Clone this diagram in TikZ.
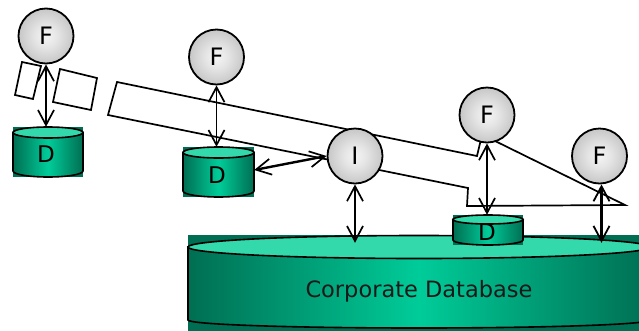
\documentclass[tikz,border=0pt]{standalone}
\usepackage{fontspec}
\setmainfont{DejaVu Sans}
\usetikzlibrary{arrows.meta}

\definecolor{tealdark}{RGB}{0,110,82}
\definecolor{tealbright}{RGB}{0,204,153}
\definecolor{teallight}{RGB}{51,217,170}
\pgfdeclareradialshading{sphere}{\pgfpoint{0bp}{0bp}}{color(0bp)=(white!96!black); color(10bp)=(white!90!black); color(50bp)=(black!42)}

% database drum: #1 left x, #2 right x, #3 box top, #4 lid centre y,
% #5 lid half-height, #6 side bottom y, #7 bottom bulge, #8 box bottom
\newcommand{\dbdrum}[8]{%
  \pgfmathsetmacro{\dbcx}{(#1+#2)/2}%
  \pgfmathsetmacro{\dbrx}{(#2-#1)/2}%
  \fill[tealdark] (#1,#3) rectangle (#2,#8);
  \draw[drumedge, left color=tealdark, right color=tealdark, middle color=tealbright]
    (#1,#4) -- (#1,#6) arc[start angle=180, end angle=0, x radius=\dbrx, y radius=#7]
    -- (#2,#4) -- cycle;
  \filldraw[drumedge, fill=teallight] (\dbcx,#4) ellipse[x radius=\dbrx, y radius=#5];
}

\begin{document}
\begin{tikzpicture}[x=1pt, y=-1pt,
  drumedge/.style={draw=black, line width=1.6pt},
  proc/.style={circle, draw=black, line width=1.8pt, minimum size=55pt, inner sep=0pt,
    shade, shading=sphere, font=\fontsize{24}{28}\selectfont},
  drumbox/.style={rectangle, draw=none, inner sep=0pt},
  dlabel/.style={inner sep=0pt, font=\fontsize{23}{27}\selectfont},
  outline/.style={draw=black, line width=1.7pt, line join=miter},
  link/.style={<->, line width=1.7pt},
  >={Straight Barb[length=15pt,width=16pt]}]
\useasboundingbox (0,0) rectangle (639,330);

% corporate database
\dbdrum{188}{650}{235}{247}{11.5}{320}{8}{335}
\node[drumbox, minimum width=462pt, minimum height=100pt] (cdb) at (419,285) {};
\node[inner sep=0pt, font=\fontsize{22.5}{27}\selectfont, text=black!90] (cdbt) at (419,291) {Corporate Database};
\coordinate (cdbtop) at ([yshift=-8pt]cdb.north);

% local databases
\dbdrum{13}{83}{127}{132.5}{5.5}{171}{6}{177}
\node[drumbox, minimum width=70pt, minimum height=50pt] (d1) at (48,152) {};
\node[dlabel] (d1t) at (46,154.5) {D};

\dbdrum{183}{254}{147}{152.5}{5.5}{191}{6}{197}
\node[drumbox, minimum width=71pt, minimum height=50pt] (d2) at (218.5,172) {};
\node[dlabel] (d2t) at (217,175) {D};

\dbdrum{453}{523}{215}{219.5}{4.5}{240}{5}{245}
\node[drumbox, minimum width=70pt, minimum height=30pt] (d3) at (488,230) {};
\node[dlabel] (d3t) at (487,232) {D};

% loose records and the data channel
\draw[outline] (22,62) -- (41,66) -- (33,99) -- (15,95) -- cycle;
\draw[outline] (60,69) -- (97,78) -- (91,110) -- (53,102) -- cycle;
\draw[outline] (117,82) -- (477,156) -- (481,139) -- (491,139) -- (625,205)
  -- (467,206) -- (468,188) -- (108,115) -- cycle;

% processes
\node[proc] (f1) at (46,36) {F};
\node[proc] (f2) at (216.5,57) {F};
\node[proc] (i) at (355,156) {I};
\node[proc] (f3) at (487,115) {F};
\node[proc] (f4) at (599.5,156) {F};

% links
\draw[link] (f1.south) -- (f1.south |- d1.north);
\draw[link] (f2.south) -- (f2.south |- d2.north);
\draw[link, line width=2.4pt, >={Straight Barb[length=15pt,width=16pt,line width=1.7pt]}]
  ([yshift=2pt]d2.east) -- (i.west);
\draw[link] (i.south) -- (i.south |- cdbtop);
\draw[link] (f3.south) -- (f3.south |- d3.north);
\draw[link, line width=3.5pt, >={Straight Barb[length=15pt,width=16pt,line width=1.8pt]}]
  ([xshift=2pt]f4.south) -- ([xshift=2pt]f4.south |- cdbtop);
\end{tikzpicture}
\end{document}
